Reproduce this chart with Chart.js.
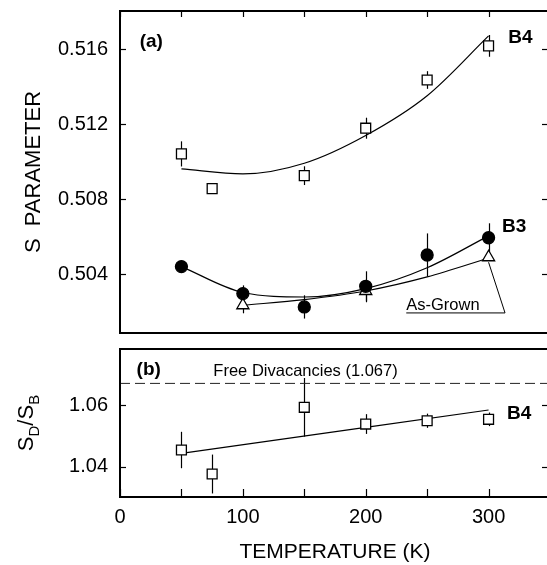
<!DOCTYPE html>
<html>
<head>
<meta charset="utf-8">
<script src="https://cdn.jsdelivr.net/npm/chart.js@4"></script>
<style>
  html, body { margin: 0; padding: 0; background: #fff; overflow: hidden; }
  #wrap { position: relative; width: 552px; height: 565px; overflow: hidden; }
  #top { position: absolute; left: 0; top: 0; width: 552px; height: 340px; }
  #bot { position: absolute; left: 0; top: 340px; width: 552px; height: 225px; }
</style>
</head>
<body>
<div id="wrap">
  <canvas id="top" width="552" height="340"></canvas>
  <canvas id="bot" width="552" height="225"></canvas>
</div>
<script>
// axis ticks
const tempTicks = [0, 50, 100, 150, 200, 250, 300, 350];
const tempLabels = [0, 100, 200, 300];
const sTicks = [0.504, 0.508, 0.512, 0.516];
const ratioTicks = [1.04, 1.06];

// (a) S parameter vs temperature
const b4Temp = [50, 75, 150, 200, 250, 300];
const b4S = [0.51042, 0.50857, 0.50926, 0.51179, 0.51436, 0.51618];
const b4SErr = [0.00067, 0.0002, 0.0005, 0.00056, 0.00047, 0.00058];
const b4FitTemp = [50, 100, 150, 200, 250, 300];
const b4FitS = [0.50962, 0.50935, 0.50992, 0.51140, 0.51352, 0.51671];

const b3Temp = [50, 100, 150, 200, 250, 300];
const b3S = [0.50441, 0.50297, 0.50226, 0.50336, 0.50503, 0.50595];
const b3SErr = [0.0001, 0.00044, 0.00062, 0.0008, 0.00115, 0.00077];
const b3FitTemp = [50, 100, 150, 200, 250, 300];
const b3FitS = [0.50441, 0.50303, 0.50279, 0.50324, 0.50435, 0.50605];

const grownTemp = [100, 200, 300];
const grownS = [0.50235, 0.50311, 0.50491];
const grownSErr = [0.00043, 0.0006, 0.0002];
const grownFitTemp = [100, 150, 200, 250, 300];
const grownFitS = [0.50235, 0.50265, 0.50311, 0.50386, 0.50487];

// (b) S_D/S_B vs temperature
const ratioTemp = [50, 75, 150, 200, 250, 300];
const ratio = [1.04541, 1.03763, 1.05925, 1.05383, 1.0549, 1.05536];
const ratioErr = [0.0059, 0.0063, 0.0095, 0.0032, 0.0023, 0.0022];
const ratioFitTemp = [50, 300];
const ratioFit = [1.04434, 1.05837];
const freeDiv = 1.067;

const FONT = '"Liberation Sans", Arial, sans-serif';
Chart.defaults.font.family = FONT;
Chart.defaults.color = '#000';

function pts(xs, ys) {
  return xs.map((x, i) => ({ x: x, y: ys[i] }));
}

function markers(xs, ys, errs, style, fill) {
  return {
    data: pts(xs, ys),
    errors: errs,
    pointStyle: style,
    pointRadius: style === 'circle' ? 6 : 7,
    backgroundColor: fill,
    borderColor: '#000',
    pointBorderWidth: 1.3,
    showLine: false
  };
}

function curve(xs, ys) {
  return {
    data: pts(xs, ys),
    showLine: true,
    pointRadius: 0,
    borderColor: '#000',
    borderWidth: 1.2,
    cubicInterpolationMode: 'monotone'
  };
}

// no extra label padding, so the plot box lands where it should
function noPad(s) {
  s.paddingTop = 0; s.paddingBottom = 0; s.paddingLeft = 0; s.paddingRight = 0;
}

// frame, inward ticks, error bars and text
const frame = {
  id: 'frame',
  beforeDatasetsDraw(chart) {
    const { ctx } = chart;
    const x = chart.scales.x, y = chart.scales.y;
    ctx.save();
    ctx.strokeStyle = '#000';
    ctx.lineWidth = 1.2;
    chart.data.datasets.forEach(ds => {
      if (!ds.errors) return;
      ds.data.forEach((p, i) => {
        const px = Math.round(x.getPixelForValue(p.x)) + 0.5;
        ctx.beginPath();
        ctx.moveTo(px, y.getPixelForValue(p.y - ds.errors[i]));
        ctx.lineTo(px, y.getPixelForValue(p.y + ds.errors[i]));
        ctx.stroke();
      });
    });
    ctx.restore();
  },
  afterDraw(chart, args, opts) {
    const { ctx, chartArea: a } = chart;
    const x = chart.scales.x, y = chart.scales.y;
    ctx.save();
    ctx.strokeStyle = '#000';
    ctx.lineWidth = 2;
    ctx.strokeRect(a.left, a.top, a.right - a.left, a.bottom - a.top);

    ctx.lineWidth = 1.2;
    const seg = (x1, y1, x2, y2) => {
      ctx.beginPath(); ctx.moveTo(x1, y1); ctx.lineTo(x2, y2); ctx.stroke();
    };
    x.ticks.forEach(t => {
      const px = Math.round(x.getPixelForValue(t.value)) + 0.5;
      if (opts.topTicks) seg(px, a.top, px, a.top + 6);
      if (opts.bottomTicks) seg(px, a.bottom, px, a.bottom - 8);
    });
    y.ticks.forEach(t => {
      const py = Math.round(y.getPixelForValue(t.value)) + 0.5;
      seg(a.left, py, a.left + 6, py);
      seg(a.right, py, a.right - 8, py);
    });

    ctx.fillStyle = '#000';
    ctx.textAlign = 'left';
    ctx.textBaseline = 'middle';
    (opts.labels || []).forEach(l => {
      ctx.font = l.font + ' ' + FONT;
      ctx.fillText(l.text, x.getPixelForValue(l.x), y.getPixelForValue(l.y));
    });

    if (opts.leader) {
      // underline of "As-Grown" and pointer to the 300 K triangle
      const L = opts.leader;
      const y0 = y.getPixelForValue(L.y);
      const x0 = x.getPixelForValue(L.x0), x1 = x.getPixelForValue(L.x1);
      const tx = x.getPixelForValue(L.tx), ty = y.getPixelForValue(L.ty) + 5;
      ctx.lineWidth = 1;
      ctx.beginPath();
      ctx.moveTo(x0, y0); ctx.lineTo(x1, y0); ctx.lineTo(tx, ty);
      ctx.stroke();
    }

    if (opts.ratioTitle) {
      const parts = [['S', 22, 0], ['D', 15, 6], ['/', 22, 0], ['S', 22, 0], ['B', 15, 6]];
      ctx.translate(33, (a.top + a.bottom) / 2);
      ctx.rotate(-Math.PI / 2);
      ctx.textBaseline = 'alphabetic';
      let w = 0;
      parts.forEach(p => { ctx.font = p[1] + 'px ' + FONT; w += ctx.measureText(p[0]).width; });
      let cx = -w / 2;
      parts.forEach(p => {
        ctx.font = p[1] + 'px ' + FONT;
        ctx.fillText(p[0], cx, p[2]);
        cx += ctx.measureText(p[0]).width;
      });
    }
    ctx.restore();
  }
};

const xScale = (show) => ({
  type: 'linear',
  display: show,
  min: 0,
  max: 350,
  afterBuildTicks: s => { s.ticks = tempTicks.map(v => ({ value: v })); },
  grid: { display: false, drawTicks: false },
  border: { display: false },
  ticks: {
    autoSkip: false,
    maxRotation: 0,
    padding: 8,
    font: { size: 20 },
    callback: v => tempLabels.includes(v) ? String(v) : ''
  },
  title: { display: true, text: 'TEMPERATURE (K)', font: { size: 21 }, padding: { top: 0, bottom: 0 } },
  afterFit: s => { s.height = show ? 68 : 0; noPad(s); }
});

const yScale = (min, max, ticks, digits) => ({
  min: min,
  max: max,
  afterBuildTicks: s => { s.ticks = ticks.map(v => ({ value: v })); },
  afterFit: s => { s.width = 120; noPad(s); },
  grid: { display: false, drawTicks: false },
  border: { display: false },
  ticks: { padding: 12, font: { size: 20 }, callback: v => v.toFixed(digits) }
});

const topY = yScale(0.50087, 0.51804, sTicks, 3);
topY.title = { display: true, text: 'S  PARAMETER', font: { size: 22 }, padding: { top: 21, bottom: 0 } };

new Chart(document.getElementById('top'), {
  type: 'scatter',
  data: {
    datasets: [
      markers(b4Temp, b4S, b4SErr, 'rect', '#fff'),
      markers(b3Temp, b3S, b3SErr, 'circle', '#000'),
      markers(grownTemp, grownS, grownSErr, 'triangle', '#fff'),
      curve(b4FitTemp, b4FitS),
      curve(b3FitTemp, b3FitS),
      curve(grownFitTemp, grownFitS)
    ]
  },
  options: {
    responsive: false,
    animation: false,
    layout: { autoPadding: false, padding: { top: 11, bottom: 7, left: 0, right: 2 } },
    plugins: {
      legend: { display: false },
      tooltip: { enabled: false },
      frame: {
        topTicks: true,
        labels: [
          { text: '(a)', x: 16, y: 0.51639, font: 'bold 19px' },
          { text: 'B4', x: 316, y: 0.5166, font: 'bold 19px' },
          { text: 'B3', x: 311, y: 0.50652, font: 'bold 19px' },
          { text: 'As-Grown', x: 233, y: 0.50236, font: '16.5px' }
        ],
        leader: { x0: 233, x1: 313.4, y: 0.50194, tx: 300, ty: grownS[2] }
      }
    },
    scales: { x: xScale(false), y: topY }
  },
  plugins: [frame]
});

new Chart(document.getElementById('bot'), {
  type: 'scatter',
  data: {
    datasets: [
      markers(ratioTemp, ratio, ratioErr, 'rect', '#fff'),
      curve(ratioFitTemp, ratioFit),
      {
        data: pts([0, 350], [freeDiv, freeDiv]),
        showLine: true,
        pointRadius: 0,
        borderColor: '#222',
        borderWidth: 1,
        borderDash: [10, 5]
      }
    ]
  },
  options: {
    responsive: false,
    animation: false,
    layout: { autoPadding: false, padding: { top: 9, bottom: 0, left: 0, right: 2 } },
    plugins: {
      legend: { display: false },
      tooltip: { enabled: false },
      frame: {
        bottomTicks: true,
        ratioTitle: true,
        labels: [
          { text: '(b)', x: 13.5, y: 1.07135, font: 'bold 19px' },
          { text: 'Free Divacancies (1.067)', x: 76, y: 1.07102, font: '16.5px' },
          { text: 'B4', x: 315, y: 1.05708, font: 'bold 19px' }
        ]
      }
    },
    scales: { x: xScale(true), y: yScale(1.03018, 1.07815, ratioTicks, 2) }
  },
  plugins: [frame]
});
</script>
</body>
</html>
